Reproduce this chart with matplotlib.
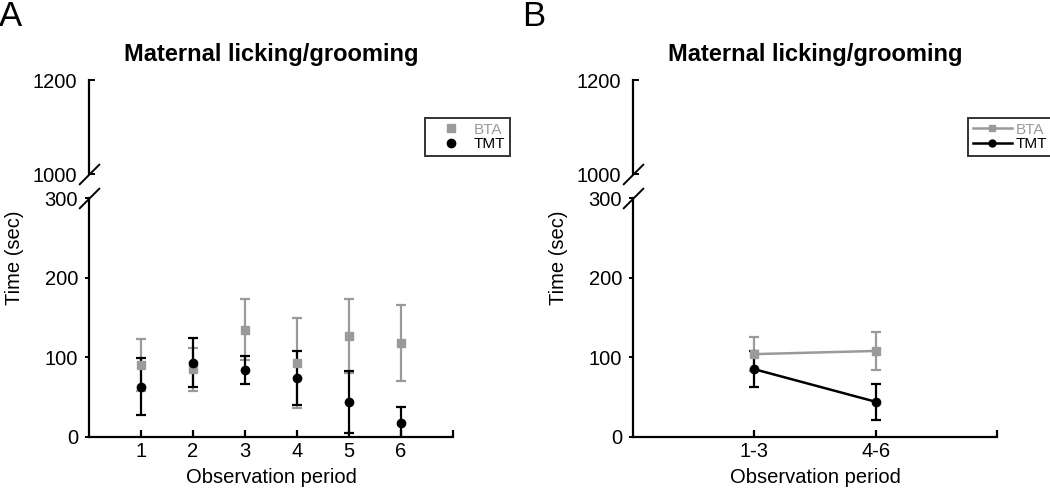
import matplotlib
matplotlib.use("Agg")
import matplotlib.pyplot as plt
from matplotlib.lines import Line2D

plt.rcParams['font.family'] = ['Liberation Sans', 'DejaVu Sans']

# panel A: six observation periods
periods = ['1', '2', '3', '4', '5', '6']
bta_mean = [90, 85, 135, 93, 127, 118]
bta_err = [33, 27, 38, 57, 47, 48]
tmt_mean = [63, 93, 84, 74, 44, 17]
tmt_err = [36, 31, 18, 34, 39, 20]

# panel B: pooled periods
pooled = ['1-3', '4-6']
bta_pooled = [104, 108]
bta_pooled_err = [21, 24]
tmt_pooled = [85, 44]
tmt_pooled_err = [23, 23]

GRAY = '#9a9a9a'
W, H = 1050, 490

fig = plt.figure(figsize=(10.5, 4.9), dpi=100)


def px(x0, y0, x1, y1):
    # pixel box -> figure fraction rect
    return [x0 / W, 1 - y1 / H, (x1 - x0) / W, (y1 - y0) / H]


def make_panel(x0, x1, labels, letter, letter_x):
    lo = fig.add_axes(px(x0, 198.5, x1, 436.7))
    hi = fig.add_axes(px(x0, 80, x1, 174))
    n = len(labels)
    for ax in (lo, hi):
        ax.set_xlim(0, n + 1)
        ax.spines['top'].set_visible(False)
        ax.spines['right'].set_visible(False)
        ax.spines['left'].set_linewidth(1.6)
        ax.patch.set_visible(False)
    lo.spines['bottom'].set_linewidth(1.6)
    lo.set_ylim(0, 300)
    lo.set_yticks([0, 100, 200, 300])
    lo.tick_params(axis='y', direction='out', length=3, width=1.4, pad=5, labelsize=14.5)
    lo.set_xticks(range(1, n + 2))
    lo.set_xticklabels(labels + [''])
    lo.tick_params(axis='x', direction='in', length=5, width=1.6, pad=4, labelsize=14.5)
    lo.set_xlabel('Observation period', fontsize=14.5, labelpad=5)

    hi.spines['bottom'].set_visible(False)
    hi.set_ylim(1000, 1200)
    hi.set_yticks([1000, 1200])
    hi.set_xticks([])
    hi.tick_params(axis='y', direction='in', length=4, width=1.4, pad=9, labelsize=14.5)

    # break marks
    kw = dict(marker=[(-1, -1), (1, 1)], markersize=15, linestyle='none',
              color='k', mec='k', mew=1.4, clip_on=False)
    lo.plot([0], [1], transform=lo.transAxes, **kw)
    hi.plot([0], [0], transform=hi.transAxes, **kw)

    fig.text((x0 + x1) / 2 / W, 1 - 55 / H, 'Maternal licking/grooming',
             fontsize=17, fontweight='bold', ha='center', va='center')
    fig.text(letter_x / W, 1 - 17 / H, letter, fontsize=25, ha='left', va='center')
    fig.text((x0 - 75) / W, 1 - 258 / H, 'Time (sec)', fontsize=14.5,
             rotation=90, ha='center', va='center')
    return lo, hi


def add_legend(handles, x_left, hl, htp):
    leg = fig.legend(handles, ['BTA', 'TMT'], loc='upper left',
                     bbox_to_anchor=(x_left / W, 1 - 118 / H),
                     fontsize=11, frameon=True, fancybox=False, edgecolor='k',
                     handlelength=hl, borderpad=0.3, labelspacing=0.05,
                     handletextpad=htp, borderaxespad=0, numpoints=1)
    leg.get_frame().set_linewidth(1.4)
    leg.get_texts()[0].set_color(GRAY)
    return leg


# ---- panel A ----
loA, hiA = make_panel(89, 453, periods, 'A', -1)
xa = range(1, len(periods) + 1)
loA.errorbar(xa, bta_mean, yerr=bta_err, fmt='s', color=GRAY, ms=6,
             elinewidth=1.6, capsize=3.5, capthick=1.6)
loA.errorbar(xa, tmt_mean, yerr=tmt_err, fmt='o', color='k', ms=6,
             elinewidth=1.6, capsize=3.5, capthick=1.6)
add_legend([Line2D([], [], marker='s', ls='none', color=GRAY, ms=6),
            Line2D([], [], marker='o', ls='none', color='k', ms=6)],
           425, 2.8, 0.1)

# ---- panel B ----
loB, hiB = make_panel(633, 997, pooled, 'B', 522)
xb = range(1, len(pooled) + 1)
loB.errorbar(xb, bta_pooled, yerr=bta_pooled_err, fmt='s-', color=GRAY, ms=6,
             lw=1.8, elinewidth=1.6, capsize=3.5, capthick=1.6)
loB.errorbar(xb, tmt_pooled, yerr=tmt_pooled_err, fmt='o-', color='k', ms=6,
             lw=1.8, elinewidth=1.6, capsize=3.5, capthick=1.6)
add_legend([Line2D([], [], marker='s', color=GRAY, ms=5, lw=1.8),
            Line2D([], [], marker='o', color='k', ms=5, lw=1.8)],
           968, 2.6, 0.2)

fig.savefig('out.png', dpi=100)
